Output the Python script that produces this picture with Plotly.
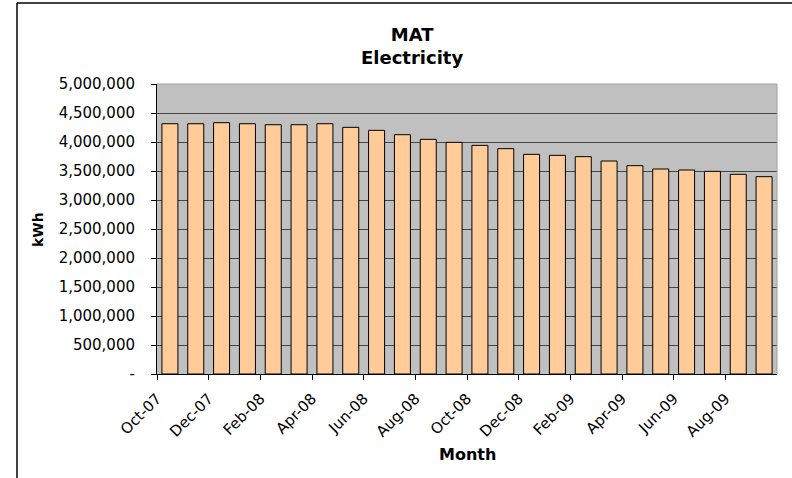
import plotly.graph_objects as go

months = ["Oct-07", "Nov-07", "Dec-07", "Jan-08", "Feb-08", "Mar-08", "Apr-08", "May-08",
          "Jun-08", "Jul-08", "Aug-08", "Sep-08", "Oct-08", "Nov-08", "Dec-08", "Jan-09",
          "Feb-09", "Mar-09", "Apr-09", "May-09", "Jun-09", "Jul-09", "Aug-09", "Sep-09"]
kwh = [4315000, 4315000, 4333000, 4315000, 4298000, 4298000, 4315000, 4253000,
       4201000, 4126000, 4046000, 3994000, 3942000, 3885000, 3787000, 3770000,
       3747000, 3672000, 3592000, 3534000, 3517000, 3494000, 3443000, 3402000]
y_ticks = [0, 500000, 1000000, 1500000, 2000000, 2500000, 3000000, 3500000, 4000000, 4500000, 5000000]
y_ticktext = ["-", "500,000", "1,000,000", "1,500,000", "2,000,000", "2,500,000",
              "3,000,000", "3,500,000", "4,000,000", "4,500,000", "5,000,000"]

pos = list(range(len(months)))
tick_pos = [p - 0.5 for p in pos[::2]]
tick_txt = months[::2]

FONT = "DejaVu Sans, Verdana, sans-serif"

fig = go.Figure(go.Bar(
    x=pos, y=kwh,
    marker=dict(color="#FFCC99", line=dict(color="black", width=1)),
    hovertext=months,
))

fig.update_layout(
    width=792, height=478,
    margin=dict(l=157, r=15, t=84, b=104),
    paper_bgcolor="white", plot_bgcolor="#C0C0C0",
    bargap=0.38, showlegend=False,
    font=dict(family=FONT, size=15, color="black"),
    xaxis=dict(range=[-0.5, 23.5], tickmode="array", tickvals=tick_pos, ticktext=tick_txt,
               tickangle=-45, ticks="outside", ticklen=5, tickcolor="black", ticklabelstandoff=4,
               showline=True, linecolor="black", linewidth=1, showgrid=False, zeroline=False,
               tickfont=dict(size=15)),
    yaxis=dict(range=[0, 5000000], tickmode="array", tickvals=y_ticks, ticktext=y_ticktext,
               ticks="outside", ticklen=5, tickcolor="black", ticklabelstandoff=13,
               showline=True, linecolor="black", linewidth=1,
               showgrid=True, gridcolor="#454545", gridwidth=1, zeroline=False,
               tickfont=dict(size=15)),
    annotations=[
        dict(text="<b>MAT</b><br><b>Electricity</b>", xref="paper", yref="paper",
             x=0.411, y=1.131, xanchor="center", yanchor="middle", showarrow=False,
             font=dict(size=18, family=FONT)),
        dict(text="<b>kWh</b>", xref="paper", yref="paper", x=-0.192, y=0.5,
             textangle=-90, xanchor="center", yanchor="middle", showarrow=False,
             font=dict(size=14, family=FONT)),
        dict(text="<b>Month</b>", xref="paper", yref="paper", x=0.5, y=-0.279,
             xanchor="center", yanchor="middle", showarrow=False,
             font=dict(size=16, family=FONT)),
    ],
    shapes=[
        # plot-area border (top, right)
        dict(type="line", xref="paper", yref="paper", x0=0, x1=1, y0=1, y1=1,
             line=dict(color="#A0A0A0", width=1), layer="above"),
        dict(type="line", xref="paper", yref="paper", x0=1, x1=1, y0=0, y1=1,
             line=dict(color="#A0A0A0", width=1), layer="above"),
        # chart-area frame (top, left)
        dict(type="line", xref="paper", yref="paper", x0=-0.2258, x1=1.03, y0=1.2793, y1=1.2793,
             line=dict(color="black", width=1.5)),
        dict(type="line", xref="paper", yref="paper", x0=-0.2258, x1=-0.2258, y0=1.2793, y1=-0.4,
             line=dict(color="black", width=1.5)),
    ],
)

fig.write_html("out.html", config={"displayModeBar": False},
               post_script="document.body.style.margin='0';")
